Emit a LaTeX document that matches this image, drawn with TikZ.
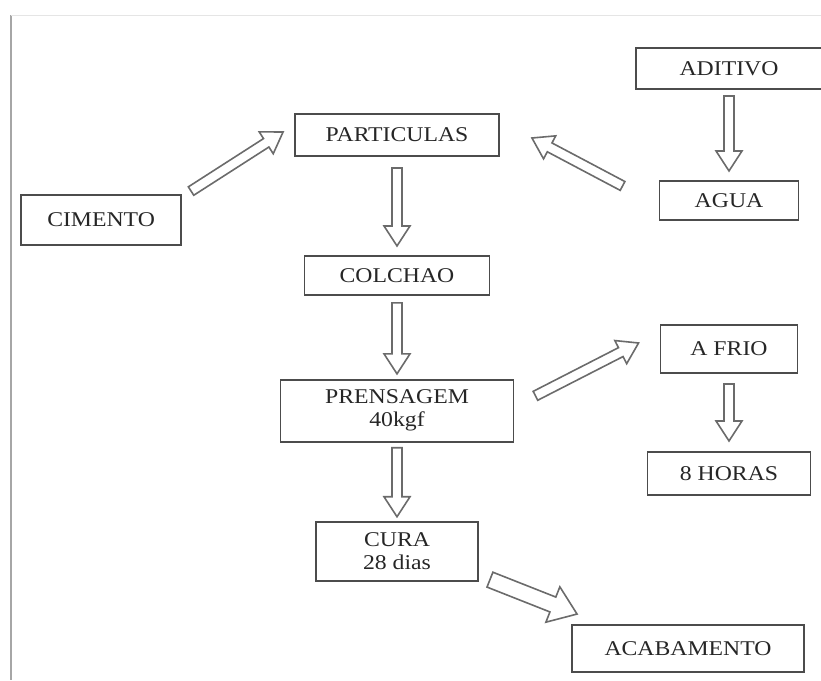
\documentclass[tikz,border=0pt]{standalone}
\usepackage{fontspec}
\setmainfont{Liberation Serif}[FakeStretch=1.13]
\usetikzlibrary{positioning,calc}

\begin{document}
\begin{tikzpicture}[
    x=1pt, y=-1pt,
    caixa/.style={
        draw=black!70,
        line width=1.9pt,
        align=center,
        inner sep=0pt,
        text=black!85,
        font=\fontsize{21}{23}\selectfont
    },
    bloco/.style n args={3}{
        draw=black!58,
        line width=1.6pt,
        line join=miter,
        to path={
            ($(\tikztotarget)!#3!(\tikztostart)$) coordinate (base)
            ($(\tikztostart)!#1!90:(\tikztotarget)$)
            -- ($(base)!#1!-90:(\tikztostart)$)
            -- ($(base)!#2!-90:(\tikztostart)$)
            -- (\tikztotarget)
            -- ($(base)!#2!90:(\tikztostart)$)
            -- ($(base)!#1!90:(\tikztostart)$)
            -- ($(\tikztostart)!#1!-90:(\tikztotarget)$)
            -- cycle
        }
    },
    seta/.style={bloco={5pt}{13pt}{20pt}},
    setagrande/.style={bloco={8pt}{19pt}{26pt}}
]

\useasboundingbox (0,0) rectangle (821,680);
\draw[black!35, line width=2pt] (11,15) -- (11,680);
\draw[black!10, line width=1pt] (11,15) -- (821,15);

\node[caixa, minimum width=204pt, minimum height=42pt] (part) at (397,135) {PARTICULAS};
\node[caixa, minimum width=185pt, minimum height=39pt, below=98pt of part] (colch) {COLCHAO};
\node[caixa, minimum width=233pt, minimum height=62pt, below=83pt of colch] (prens) {PRENSAGEM\\40kgf};
\node[caixa, minimum width=162pt, minimum height=59pt, below=78pt of prens] (cura) {CURA\\28 dias};

\node[caixa, minimum width=160pt, minimum height=50pt, left=112pt of part, yshift=-85pt] (ciment) {CIMENTO};

\node[caixa, minimum width=186pt, minimum height=41pt] (adit) at (729,68.5) {ADITIVO};
\node[caixa, minimum width=139pt, minimum height=39pt, below=90pt of adit] (agua) {AGUA};

\node[caixa, minimum width=137pt, minimum height=48pt] (afrio) at (729,349) {A FRIO};
\node[caixa, minimum width=163pt, minimum height=43pt, below=77pt of afrio] (horas) {8 HORAS};

\node[caixa, minimum width=232pt, minimum height=47pt] (acab) at (688,648.5) {ACABAMENTO};

\draw[seta] ([shift={(9pt,3pt)}]ciment.north east) to ([shift={(-11pt,3pt)}]part.west);
\draw[seta] ([shift={(-36pt,-6pt)}]agua.north west) to ([shift={(32pt,-3pt)}]part.east);
\draw[seta] ([yshift=-11pt]part.south) to ([yshift=9pt]colch.north);
\draw[seta] ([yshift=-6pt]adit.south) to ([yshift=9pt]agua.north);
\draw[seta] ([yshift=-7pt]colch.south) to ([yshift=5pt]prens.north);
\draw[seta] ([shift={(21pt,15pt)}]prens.east) to ([shift={(-21pt,6pt)}]afrio.west);
\draw[seta] ([yshift=-10pt]afrio.south) to ([yshift=10pt]horas.north);
\draw[seta] ([yshift=-5pt]prens.south) to ([yshift=4pt]cura.north);
\draw[setagrande] ([shift={(11pt,2pt)}]cura.south east) to ([shift={(6pt,10pt)}]acab.north west);

\end{tikzpicture}
\end{document}
